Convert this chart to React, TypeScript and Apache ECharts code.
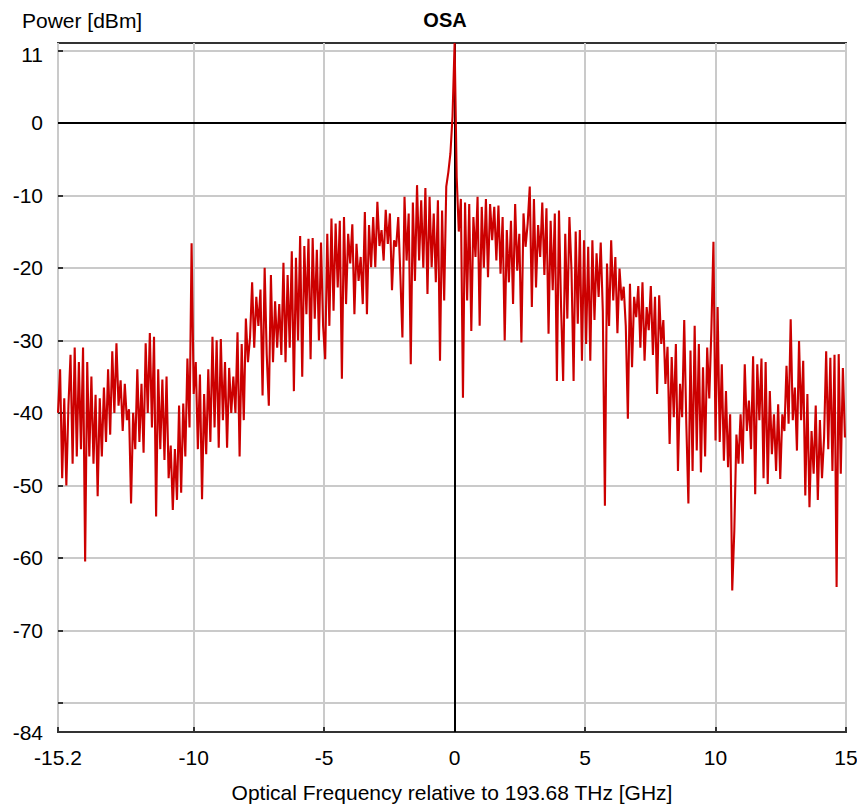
import { useEffect, useRef } from "react";
import * as echarts from "echarts";

// Frequency grid (GHz relative to 193.68 THz)
const FREQ_START = -15.2;
const FREQ_STEP = 0.08;

// Power readings in dBm, segment by segment
const segA = [
  -40, -34, -49, -38, -50, -39, -32, -47, -31, -46, -33, -45, -31, -60.5, -33, -46, -35, -47, -37.5, -51.5,
  -38, -46, -36.5, -44, -34, -43, -31.5, -40, -30.4, -39, -35.5, -42.5, -36, -41, -39.5, -52.5, -40, -45, -34, -44,
  -36, -45.5, -30.4, -40, -29, -42, -29.5, -54.3, -34, -45, -35.4, -46.5, -35, -49, -44.5, -53.4, -45, -52, -39, -51,
  -38.7, -46, -32.5, -42, -16.6,
];
const segB = [
  -37.4, -33, -45, -34.7, -51.9, -37.4, -45.7, -34, -44, -29.5, -42, -30, -44.8, -29.8, -41, -33, -44.8, -33.8, -40, -35,
  -40, -28.9, -46, -30.5, -41, -27, -33, -29.6, -22, -31, -24, -28, -23, -37.6, -20, -32, -39, -21, -33, -24.6,
  -31, -25, -32, -19.3, -33, -21, -31, -17.7, -37, -18.6, -30, -15.6, -35, -17, -26.4, -16, -32.6, -15.9, -27, -17.5,
  -30, -16.5, -28,
];
const segC = [
  -32.6, -15.3, -28, -13.2, -25.9, -13.9, -22.7, -13.5, -35.3, -13, -25, -15.3, -19.4, -14, -26.4, -16.7, -21.8, -18.5, -25, -12.3,
  -26.4, -14.1, -19.9, -13, -19.9, -10.9, -17, -14.8, -19, -12, -16.7, -12.5, -23.1, -16.2, -17.1, -13, -21, -29.6, -10.2, -19,
  -12.5, -33.3, -11, -21.8, -8.6, -19, -10.7, -20, -9, -23.6, -10.2, -19.9, -12.5, -22, -10.7, -32.8, -12.1, -24.5, -8.8, -6.8,
  -4.2, 0.9,
];
const segD = [
  11, -7.5, -15, -10.5, -37.9, -11, -24.5, -11.2, -28.7, -13, -18.5, -10.2, -28, -11.6, -20, -10.5, -21.3, -11.2, -16.2, -11.6,
  -19, -11.4, -20.8, -13, -30, -14.8, -22, -13.5, -25, -11.2, -20.4, -15.3, -30.3, -12.5, -17.1, -13.9, -8.8, -25.4, -10.5, -22.7,
  -14.1, -18.5, -11, -21, -11.8, -29.1, -13.5, -23.1, -12.5, -35.6, -12.1, -25.4, -35.6, -15.3, -27, -13, -20.4, -35.6, -15, -27.7,
  -14.8, -32.8, -16.2,
];
const segE = [
  -30.5, -17.1, -32.8, -16.2, -27.2, -18, -24, -16.5, -26, -52.8, -19.4, -28, -16.2, -24.5, -18.5, -29, -20.1, -24.5, -22.6, -28,
  -40.8, -22.2, -33.7, -24, -26.8, -22.5, -31, -22, -32.8, -25.4, -28.6, -22.5, -32, -24, -37.4, -23.8, -30.5, -27.2, -36, -30.9,
  -44.3, -32.3, -40.6, -30.5, -48, -36, -40.6, -27.2, -41.5, -52.5, -31.4, -48, -28, -45.2, -30.5, -48.2, -33.7, -46, -31, -38,
  -28.6, -16.4,
];
const segF = [
  -43.8, -25.4, -44, -33.3, -46.6, -37, -47.5, -40.2, -64.5, -56.2, -43, -47, -40.2, -47, -33.3, -42.5, -38.3, -45, -32.2, -51.2,
  -33.3, -41, -32.5, -49, -33, -49.8, -37, -45.7, -40.2, -48, -38.8, -49.1, -40.2, -42.5, -33.5, -41.5, -27.1, -41, -36.5, -45.2,
  -30.1, -41, -32.8, -51.4, -37.4, -53, -42.5, -48.4, -39, -52, -41, -49, -43.4, -31.5, -45, -32.4, -48, -32, -64, -31.9,
  -48.4, -33.8, -43.4,
];
const powerDbm = [...segA, ...segB, ...segC, ...segD, ...segE, ...segF];

const xTickValues = [-15.2, -10, -5, 0, 5, 10, 15];
const yGridValues = [10, 0, -10, -20, -30, -40, -50, -60, -70, -80];
const yLabelValues = [11, 0, -10, -20, -30, -40, -50, -60, -70, -84];

const FONT = "'Liberation Sans', Arial, sans-serif";
const FS = 21;

export default function App() {
  const ref = useRef<HTMLDivElement>(null);
  useEffect(() => {
    document.body.style.margin = "0";
    const chart = echarts.init(ref.current!, null, { renderer: "svg" });
    const data = powerDbm.map((v, i) => [+(FREQ_START + i * FREQ_STEP).toFixed(2), v]);
    chart.setOption({
      animation: false,
      backgroundColor: "#fff",
      textStyle: { fontFamily: FONT },
      title: [
        {
          text: "OSA",
          left: 440,
          top: 5,
          textAlign: "center",
          textStyle: { fontSize: FS - 1, fontWeight: "bold", color: "#000", fontFamily: FONT },
        },
        {
          text: "Power [dBm]",
          left: 17,
          top: 5,
          textStyle: { fontSize: FS, fontWeight: "normal", color: "#000", fontFamily: FONT },
        },
      ],
      grid: {
        left: 58,
        right: 11,
        top: 43,
        bottom: 73,
        show: true,
        borderColor: "#333",
        borderWidth: 2,
        backgroundColor: "#fff",
        containLabel: false,
        outerBoundsMode: "none",
      },
      xAxis: {
        type: "value",
        min: -15.2,
        max: 15,
        name: "Optical Frequency relative to 193.68 THz [GHz]",
        nameLocation: "middle",
        nameGap: 50,
        nameTextStyle: { fontSize: FS, color: "#000", fontFamily: FONT },
        axisLine: { show: false, onZero: false },
        axisTick: { show: true, inside: true, length: 5, customValues: xTickValues, lineStyle: { color: "#333", width: 2 } },
        axisLabel: { customValues: xTickValues, fontSize: FS, color: "#000", margin: 15, fontFamily: FONT },
        splitLine: { show: true, lineStyle: { color: "#cacaca", width: 2 } },
      },
      yAxis: {
        type: "value",
        min: -84,
        max: 11,
        axisLine: { show: false, onZero: false },
        axisTick: { show: true, inside: true, length: 5, customValues: yGridValues, lineStyle: { color: "#333", width: 2 } },
        axisLabel: {
          customValues: yLabelValues,
          fontSize: FS,
          color: "#000",
          margin: 15,
          fontFamily: FONT,
          formatter: (v: number) => (v === 11 ? "{top|11}" : String(v)),
          rich: { top: { fontSize: FS, color: "#000", fontFamily: FONT, padding: [22, 0, 0, 0] } },
        },
        splitLine: { show: true, lineStyle: { color: "#cacaca", width: 2 } },
      },
      series: [
        {
          type: "line",
          data: [],
          z: 1,
          silent: true,
          markLine: {
            silent: true,
            symbol: "none",
            z: 1,
            label: { show: false },
            lineStyle: { color: "#000", width: 2, type: "solid" },
            data: [{ xAxis: 0 }, { yAxis: 0 }],
          },
        },
        {
          type: "line",
          data,
          z: 3,
          showSymbol: false,
          symbol: "none",
          lineStyle: { color: "#cc0000", width: 2.1 },
        },
      ],
    });
    return () => chart.dispose();
  }, []);
  return <div ref={ref} style={{ width: 857, height: 805 }} />;
}
